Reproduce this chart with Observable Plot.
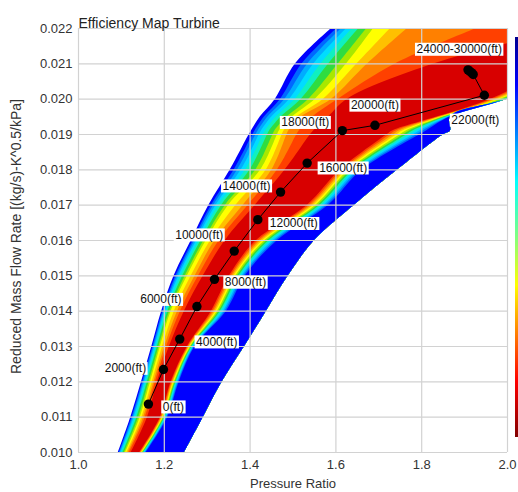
<!DOCTYPE html>
<html><head><meta charset="utf-8">
<script src="https://cdn.jsdelivr.net/npm/d3@7"></script>
<script src="https://cdn.jsdelivr.net/npm/@observablehq/plot@0.6"></script>
<style>
body{margin:0;background:#fff;}
#wrap{position:relative;width:518px;height:492px;overflow:hidden;}
#colorbar{position:absolute;left:515px;top:37px;width:4px;height:400px;
background:linear-gradient(to bottom,#00008f 0%,#0000ff 12%,#0080ff 24%,#00ffff 36%,#80ff80 50%,#ffff00 62%,#ff8000 74%,#ff0000 86%,#800000 100%);}
</style></head><body>
<div id="wrap"><div id="chart"></div><div id="colorbar"></div></div>
<script>
// ---- operating line (altitude points) ----
const altitudeFt = [0,2000,4000,6000,8000,10000,12000,14000,16000,18000,20000,22000,24000,26000,28000,30000];
const pressureRatio = [1.163,1.198,1.236,1.276,1.317,1.363,1.418,1.471,1.533,1.615,1.691,1.946,1.920,1.916,1.912,1.908];
const massFlow = [0.01137,0.01235,0.01321,0.01413,0.01490,0.01570,0.01659,0.01737,0.01819,0.01911,0.01926,0.02011,0.02070,0.02075,0.02079,0.02083];
const labelText = ["0(ft)","2000(ft)","4000(ft)","6000(ft)","8000(ft)","10000(ft)","12000(ft)","14000(ft)","16000(ft)","18000(ft)","20000(ft)","22000(ft)","24000-30000(ft)"];
const labelPoint = [0,1,2,3,4,5,6,7,8,9,10,11,12];

// ---- efficiency map: contour edges (pressure ratio) at each flow row ----
const flowRows    = [0.010,0.011,0.012,0.013,0.014,0.015,0.016,0.017,0.018,0.019,0.0191,0.0195,0.020,0.021,0.022];
const edgeLeft    = [1.093,1.122,1.147,1.171,1.194,1.223,1.263,1.304,1.354,1.398,1.403,1.424,1.459,1.506,1.590];
const edgeYellow  = [1.110,1.144,1.168,1.191,1.216,1.254,1.298,1.350,1.425,1.464,1.468,1.499,1.552,1.625,1.688];
const edgeOrange  = [1.116,1.152,1.176,1.201,1.231,1.272,1.318,1.384,1.451,1.486,1.490,1.520,1.590,1.674,1.767];
const redStart    = [1.123,1.161,1.184,1.212,1.247,1.291,1.342,1.412,1.482,1.541,1.548,1.583,1.627,1.830,2.150];
const redEnd      = [1.143,1.191,1.216,1.254,1.310,1.352,1.415,1.534,1.611,1.720,1.732,1.837,1.961,2.124,2.264];
const blueStart   = [1.158,1.208,1.235,1.272,1.345,1.389,1.464,1.583,1.662,1.797,1.811,1.872,2.019,2.217,2.357];
const edgeRight   = [1.247,1.291,1.335,1.387,1.438,1.489,1.550,1.643,1.744,1.851,1.867,1.867,2.000,2.217,2.357];
// relative positions of the colour steps inside each gradient zone
const stepsBlueGreen = [0,0.13,0.24,0.36,0.5,0.65,0.84];
const stepsYellow = [0,0.5];
const stepsOrange = [0,0.42];
const stepsRightSide = [0,0.1,0.2,0.3,0.4,0.5,0.6,0.7,0.8,0.9];

const xTicks = [1.0,1.2,1.4,1.6,1.8,2.0];
const yTicks = [0.010,0.011,0.012,0.013,0.014,0.015,0.016,0.017,0.018,0.019,0.020,0.021,0.022];

// ---- styles ----
const palette = ["#0000ff","#0068ff","#00acff","#00dcff","#10f0c0","#30dc40","#a8e800","#ffff00","#ffc000","#ff8000","#ff4000"];
const coreColor = "#d80000";
const labelOffset = [[25,3],[-38,-1],[37,3],[-36,-7],[31,3],[-35,-16],[36,4],[-34,-6],[36,5],[-37,-8],[0,-20],[-9,25],[-14,-25]];

const rows = flowRows.map((f,i)=>({f, L:edgeLeft[i], Y:edgeYellow[i], O:edgeOrange[i], A:redStart[i], B:redEnd[i], C:blueStart[i], R:edgeRight[i]}));
const points = altitudeFt.map((a,i)=>({alt:a, pr:pressureRatio[i], mf:massFlow[i]}));

const bands = [];
stepsBlueGreen.forEach((s,k)=>bands.push({color:palette[k], edge:r=>r.L + s*(r.Y-r.L)}));
stepsYellow.forEach((s,k)=>bands.push({color:palette[7+k], edge:r=>r.Y + s*(r.O-r.Y)}));
stepsOrange.forEach((s,k)=>bands.push({color:palette[9+k], edge:r=>r.O + s*(r.A-r.O)}));
bands.push({color:coreColor, edge:r=>r.A});
stepsRightSide.forEach((s,k)=>bands.push({color:palette[10-k], edge:r=>r.B + s*(r.C-r.B)}));
bands.push({color:palette[0], edge:r=>r.C});

const bandMarks = bands.map(b=>Plot.areaX(rows,{y:"f", x1:r=>Math.min(b.edge(r), r.R), x2:"R", fill:b.color, curve:"catmull-rom", clip:true}));

const labelMarks = labelText.map((t,i)=>{
  const p = points[labelPoint[i]];
  return Plot.text([p],{x:"pr", y:"mf", text:()=>t, dx:labelOffset[i][0], dy:labelOffset[i][1], fontSize:12, fill:"#111"});
});

const plot = Plot.plot({
  width:518, height:492,
  marginLeft:78, marginRight:11, marginTop:28, marginBottom:40,
  style:{fontFamily:"'Liberation Sans', Arial, sans-serif", fontSize:"13px", color:"#333", background:"#fff"},
  x:{domain:[1.0,2.0], ticks:xTicks, tickFormat:d3.format(".1f"), tickSize:0, tickPadding:7, label:null},
  y:{domain:[0.010,0.022], ticks:yTicks, tickFormat:d3.format(".3f"), tickSize:0, tickPadding:6, label:null},
  marks:[
    ...bandMarks,
    Plot.ruleX(xTicks,{stroke:"#d2d2d2", strokeWidth:1.2}),
    Plot.ruleY(yTicks,{stroke:"#d2d2d2", strokeWidth:1.2}),
    Plot.line(points,{x:"pr", y:"mf", stroke:"#000", strokeWidth:1}),
    Plot.dot(points,{x:"pr", y:"mf", r:4.7, fill:"#000"}),
    ...labelMarks,
    Plot.text(["Efficiency Map Turbine"],{text:d=>d, frameAnchor:"top-left", textAnchor:"start", lineAnchor:"bottom", dy:-1, fontSize:14, fill:"#222"}),
    Plot.text(["Pressure Ratio"],{text:d=>d, frameAnchor:"bottom", dy:35, fontSize:13, fill:"#333"}),
    Plot.text(["Reduced Mass Flow Rate [(kg/s)-K^0.5/kPa]"],{text:d=>d, frameAnchor:"left", textAnchor:"middle", rotate:-90, dx:-62, dy:-4, fontSize:14, fill:"#333"})
  ]
});
document.getElementById("chart").append(plot);

// white boxes behind the altitude labels
plot.querySelectorAll("text").forEach(t=>{
  if(!/\(ft\)$/.test(t.textContent)) return;
  const bb = t.getBBox();
  const rect = document.createElementNS("http://www.w3.org/2000/svg","rect");
  rect.setAttribute("x", bb.x-1.5);
  rect.setAttribute("y", bb.y+0.5);
  rect.setAttribute("width", bb.width+3);
  rect.setAttribute("height", bb.height-1);
  rect.setAttribute("fill", "#fff");
  const tr = t.getAttribute("transform");
  if(tr) rect.setAttribute("transform", tr);
  t.parentNode.insertBefore(rect, t);
});
</script></body></html>
